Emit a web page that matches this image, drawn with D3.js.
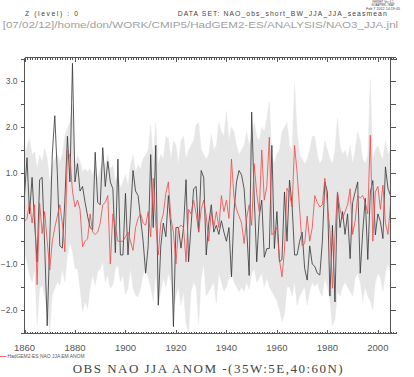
<!DOCTYPE html>
<html>
<head>
<meta charset="utf-8">
<script src="https://cdn.jsdelivr.net/npm/d3@7"></script>
<style>
  html, body { margin: 0; padding: 0; background: #fff; }
  svg { display: block; }
</style>
</head>
<body>
<svg id="chart" width="414" height="377"></svg>
<script>
// ---------------- DATA ----------------
const startYear = 1860;

// Observed NAO JJA anomaly (black line)
const obs = [
  0.5, 1.33, 0.1, 0.9, -0.1, -0.95, 0.85, 0.9, -0.6, -2.35,
  -0.5, 1.4, 2.25, 1.0, -0.6, -0.65, 0.4, 1.8, 0.8, 3.4,
  0.8, 1.2, 0.6, 0.7, 0.35, 0.05, -0.2, -0.25, 1.45, 0.35,
  0.3, 1.55, 0.7, 1.25, 0.8, 0.65, -0.75, 1.3, -0.8, -0.8,
  0.55, -0.8, 0.1, 1.05, 0.6, 0.5, 0.0, -0.5, -1.2, -0.6,
  1.4, -0.2, 1.6, -1.9, -0.6, -0.1, -0.4, 0.5, -0.2, -2.37,
  -0.2, -0.2, -0.65, -0.2, 0.85, -0.95, -0.15, 0.65, 0.7, -0.3,
  1.05, 0.9, -0.8, -0.1, 0.3, -0.3, -0.15, -0.35, -0.05, -0.3,
  -0.5, -0.2, -1.28, 0.15, 0.8, 1.05, 0.95, 0.65, -0.2, -1.25,
  2.33, 0.5, -0.95, 0.05, 0.4, -0.85, -0.66, -0.66, 1.6, -0.66,
  0.15, -0.95, -0.9, 0.58, -0.5, 0.84, 0.3, -0.8, -0.8, -0.5,
  -0.3, -1.1, -1.35, -0.6, -1.0, -1.05, -1.2, -1.24, -0.5, 0.8,
  0.58, -1.7, -0.15, -1.83, 0.58, -0.2, 0.15, -0.35, 0.1, -0.88,
  0.35, 0.58, 0.8, -1.2, -0.3, 0.44, -0.9, 0.58, 0.83, -0.36,
  0.1, -0.07, -0.44, 1.13, 0.66, 0.5
];

// HadGEM2-ES ensemble-mean NAO JJA anomaly (red line)
const ensMean = [
  -0.07, 0.0, 0.36, -0.1, 0.3, -1.45, 0.33, -0.33, 0.15, -0.5,
  -1.13, -0.5, -0.2, 0.05, 0.3, -0.1, -0.73, 1.5, 1.35, 0.6,
  0.25, 0.4, 0.2, -0.62, -0.5, -0.45, 0.1, -0.3, -0.35, -0.3,
  -0.1, 0.3, 0.35, 0.5, -1.0, 0.1, -0.2, -0.5, -0.5, -0.5,
  -0.4, -0.3, -0.5, -0.7, -0.2, 0.0, 0.1, -0.1, -0.15, 0.15,
  -0.4, 0.88, -0.1, -0.8, -0.1, 0.1, 0.55, 0.8, 0.0, -0.3,
  -1.0, -0.2, -0.15, -0.2, -0.95, 0.2, 0.1, 0.4, 0.1, -0.3,
  0.2, 0.4, 0.05, -0.5, 0.15, -0.2, 0.15, -0.2, 0.5, 0.15,
  0.4, 0.0, 1.3, 0.45, 0.2, 0.05, -0.1, -0.55, 0.0, 0.3,
  -0.15, 1.2, 0.55, 0.15, 1.5, 0.4, 0.7, 1.78, -0.36, -0.3,
  -0.2, -0.9, -1.28, -0.7, 0.66, 0.55, 0.25, 1.6, 1.0, 0.2,
  -0.6, -0.55, 0.05, -0.5, -0.2, 0.5, 0.35, 0.25, 0.3, 0.88,
  0.3, -0.25, -1.53, -0.35, 0.58, 0.2, 0.0, 0.15, 0.3, 0.65,
  -0.35, -0.05, 0.5, 0.45, 0.5, 0.35, 0.1, 1.82, -0.5, 0.58,
  0.7, 0.2, 0.73, -0.1, -0.35, 0.3
];

// Ensemble spread: maximum (upper edge of grey band)
const ensMax = [
  1.39, 1.6, 1.75, 1.39, 1.46, 1.09, 1.39, 1.24, 1.53, 1.31,
  0.8, 1.17, 1.31, 1.39, 1.24, 1.39, 1.82, 1.97, 2.12, 2.48,
  1.17, 1.39, 1.24, 1.02, 1.09, 1.02, 1.09, 0.95, 1.17, 0.88,
  1.09, 1.24, 1.17, 1.39, 1.09, 1.17, 0.8, 0.95, 0.66, 0.8,
  0.95, 0.73, 1.17, 1.39, 1.02, 1.17, 1.09, 1.31, 1.39, 1.5,
  2.05, 1.3, 2.1, 1.2, 1.4, 1.3, 1.8, 1.75, 1.3, 1.7,
  1.6, 1.2, 1.7, 1.8, 1.3, 1.5, 1.6, 1.7, 2.05, 2.1,
  1.5, 1.4, 1.3, 1.4, 1.85, 1.5, 1.6, 2.1, 1.9, 1.8,
  2.35, 1.7, 2.0, 1.9, 1.6, 1.4, 1.5, 1.6, 1.9, 1.6,
  1.8, 2.1, 1.8, 1.7, 2.0, 1.9, 2.2, 2.55, 1.4, 1.2,
  1.4, 1.5, 1.9, 2.0, 2.1, 1.6, 1.5, 2.95, 1.9, 1.4,
  1.3, 1.2, 1.3, 1.5, 1.8, 1.8, 1.4, 1.2, 1.3, 1.7,
  1.5, 1.3, 1.2, 1.5, 2.2, 1.6, 1.4, 1.5, 1.3, 1.6,
  1.2, 1.5, 1.9, 1.7, 1.3, 1.2, 1.4, 3.05, 1.3, 1.5,
  1.6, 1.4, 1.3, 1.7, 1.4, 1.5
];

// Ensemble spread: minimum (lower edge of grey band)
const ensMin = [
  -0.73, -0.96, -1.24, -1.39, -1.1, -2.34, -1.53, -1.46, -1.69, -1.98,
  -2.48, -1.69, -1.53, -1.39, -1.46, -1.1, -1.39, -0.81, -0.52, -0.73,
  -1.1, -1.1, -1.53, -2.04, -1.82, -1.97, -1.53, -1.24, -1.46, -1.17,
  -1.1, -0.95, -1.39, -1.24, -1.53, -1.46, -1.1, -1.02, -1.39, -1.24,
  -1.68, -1.53, -1.1, -1.53, -1.68, -1.72, -1.53, -1.24, -1.1, -1.3,
  -1.5, -1.8, -1.2, -1.9, -1.6, -1.3, -1.5, -1.2, -1.4, -2.0,
  -1.7, -1.5, -1.9, -1.6, -2.3, -2.5, -1.6, -1.4, -1.5, -2.3,
  -1.3, -1.0, -1.7, -1.6, -1.5, -1.4, -1.85, -1.2, -1.4, -1.6,
  -1.5, -1.3, -1.2, -1.4, -1.5, -1.6, -1.5, -1.6, -1.4, -1.55,
  -1.2, -1.1, -1.4, -1.3, -1.2, -1.5, -1.3, -1.5, -1.6, -1.7,
  -1.8, -2.0, -2.26, -2.1, -1.5, -1.5, -1.7, -1.4, -1.9, -1.7,
  -1.6, -1.5, -1.9, -1.6, -1.4, -1.5, -1.4, -1.6, -1.7, -1.3,
  -1.5, -1.8, -2.35, -2.2, -1.6, -1.7, -1.5, -1.4, -1.5, -1.6,
  -1.7, -1.3, -1.2, -1.4, -1.8, -1.5, -1.7, -1.8, -2.0, -1.4,
  -1.2, -1.3, -1.6, -1.2, -1.0, -1.2
];

const xTickLabels = [1860, 1880, 1900, 1920, 1940, 1960, 1980, 2000];
const yTickLabels = [-2, -1, 0, 1, 2, 3];

const headerLines = ["FERRET Ver. 6.1", "NOAA/PMEL TMAP", "Feb  7 2012 14:19:05"];
const levelText = "Z (level) : 0";
const datasetText = "DATA SET: NAO_obs_short_BW_JJA_JJA_seasmean";
const pathText = "[07/02/12]/home/don/WORK/CMIP5/HadGEM2-ES/ANALYSIS/NAO3_JJA.jnl";
const titleText = "OBS NAO JJA ANOM -(35W:5E,40:60N)";
const legendText = "HadGEM2-ES NAO JJA EM ANOM";

// ---------------- CHART ----------------
(function () {
const svg = d3.select("#chart");
svg.append("rect").attr("width", 414).attr("height", 377).attr("fill", "#fff");

const pLeft = 24.5, pRight = 390.5, pTop = 57.5, pBottom = 333.5, axisEnd = 396;
const endYear = startYear + obs.length - 1;

const x = d3.scaleLinear().domain([startYear, endYear]).range([pLeft, pRight]);
const y = d3.scaleLinear().domain([-2.52, 3.525]).range([pBottom, pTop]);

const rows = obs.map((v, i) => ({
  year: startYear + i, obs: v, mean: ensMean[i], lo: ensMin[i], hi: ensMax[i]
}));

const g = svg.append("g");

// band
g.append("path")
  .datum(rows)
  .attr("fill", "#e6e6e6")
  .attr("stroke", "#e6e6e6")
  .attr("stroke-width", 0.4)
  .attr("d", d3.area().x(d => x(d.year)).y0(d => y(d.lo)).y1(d => y(d.hi)));

// obs line
g.append("path")
  .datum(rows)
  .attr("fill", "none")
  .attr("stroke", "#333")
  .attr("stroke-width", 0.8)
  .attr("d", d3.line().x(d => x(d.year)).y(d => y(d.obs)));

// ensemble mean line
g.append("path")
  .datum(rows)
  .attr("fill", "none")
  .attr("stroke", "#f04848")
  .attr("stroke-width", 0.8)
  .attr("d", d3.line().x(d => x(d.year)).y(d => y(d.mean)));

// ---------- axes ----------
const axisColor = "#555";
const ax = svg.append("g").attr("stroke", axisColor).attr("stroke-width", 1)
  .attr("shape-rendering", "crispEdges");

ax.append("line").attr("x1", pLeft).attr("x2", axisEnd).attr("y1", pBottom).attr("y2", pBottom);
ax.append("line").attr("x1", pLeft).attr("x2", axisEnd).attr("y1", pTop).attr("y2", pTop);
ax.append("line").attr("x1", pLeft).attr("x2", pLeft).attr("y1", pTop).attr("y2", pBottom);
ax.append("line").attr("x1", pRight).attr("x2", pRight).attr("y1", pTop).attr("y2", pBottom);

const xTickYears = d3.range(startYear, endYear + 3);
xTickYears.forEach(yr => {
  const major = xTickLabels.includes(yr);
  const len = major ? 4 : 2;
  const px = Math.round(x(yr)) + 0.5;
  ax.append("line").attr("x1", px).attr("x2", px).attr("y1", pBottom).attr("y2", pBottom - len);
  ax.append("line").attr("x1", px).attr("x2", px).attr("y1", pTop).attr("y2", pTop + len);
});

d3.range(-2.5, 3.51, 0.5).forEach(v => {
  const py = Math.round(y(v)) + 0.5;
  ax.append("line").attr("x1", pLeft - 4).attr("x2", pLeft).attr("y1", py).attr("y2", py);
  ax.append("line").attr("x1", pRight).attr("x2", pRight + 5).attr("y1", py).attr("y2", py);
});

const labelFont = "'Liberation Sans', Arial, sans-serif";

svg.append("g").selectAll("text").data(yTickLabels).join("text")
  .attr("x", 17.5)
  .attr("y", d => y(d))
  .attr("dy", "0.35em")
  .attr("text-anchor", "end")
  .attr("font-family", labelFont)
  .attr("font-size", 8.5)
  .attr("fill", "#555")
  .text(d => d3.format(".1f")(d));

svg.append("g").selectAll("text").data(xTickLabels).join("text")
  .attr("x", d => x(d))
  .attr("y", 351)
  .attr("text-anchor", "middle")
  .attr("font-family", labelFont)
  .attr("font-size", 9.5)
  .attr("fill", "#555")
  .text(d => d);

// ---------- header texts ----------
const widths = [21, 23, 34];
headerLines.forEach((t, i) => {
  svg.append("text")
    .attr("x", 383).attr("y", 3.2 + i * 3.2)
    .attr("text-anchor", "middle")
    .attr("font-family", labelFont).attr("font-size", 3.2)
    .attr("fill", "#444")
    .attr("textLength", widths[i]).attr("lengthAdjust", "spacingAndGlyphs")
    .text(t);
});

svg.append("text")
  .attr("x", 25).attr("y", 16)
  .attr("font-family", labelFont).attr("font-size", 6.8)
  .attr("fill", "#444")
  .attr("textLength", 53).attr("lengthAdjust", "spacing")
  .text(levelText);

svg.append("text")
  .attr("x", 177.7).attr("y", 16)
  .attr("font-family", labelFont).attr("font-size", 6.8)
  .attr("fill", "#444")
  .attr("textLength", 209).attr("lengthAdjust", "spacing")
  .text(datasetText);

svg.append("text")
  .attr("x", 2.7).attr("y", 27.5)
  .attr("font-family", labelFont).attr("font-size", 9.5)
  .attr("fill", "#a0a0a0")
  .attr("textLength", 395.5).attr("lengthAdjust", "spacingAndGlyphs")
  .text(pathText);

// ---------- legend ----------
svg.append("line")
  .attr("x1", 0).attr("x2", 6.5).attr("y1", 356.5).attr("y2", 356.5)
  .attr("stroke", "#f04848").attr("stroke-width", 0.8);
svg.append("text")
  .attr("x", 7.5).attr("y", 358)
  .attr("font-family", labelFont).attr("font-size", 5)
  .attr("fill", "#555")
  .attr("textLength", 77).attr("lengthAdjust", "spacingAndGlyphs")
  .text(legendText);

// ---------- title ----------
svg.append("text")
  .attr("x", 72.7).attr("y", 373)
  .attr("font-family", "'Liberation Serif', 'Times New Roman', serif")
  .attr("font-size", 13)
  .attr("fill", "#444")
  .attr("textLength", 270).attr("lengthAdjust", "spacing")
  .text(titleText);
})();
</script>
</body>
</html>
